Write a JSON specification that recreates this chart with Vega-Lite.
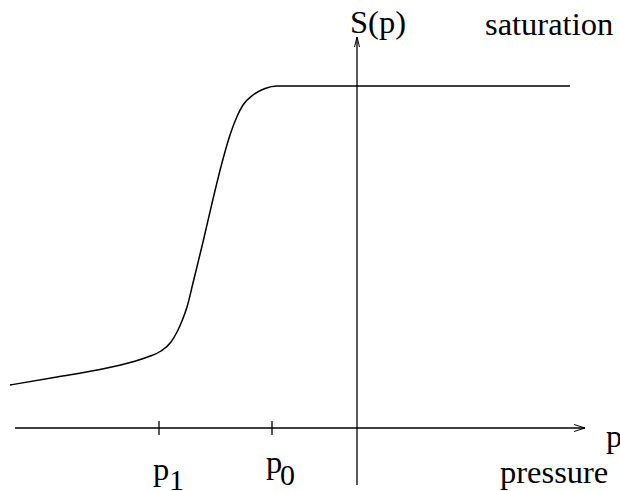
{
  "$schema": "https://vega.github.io/schema/vega-lite/v6.json",
  "width": 620,
  "height": 491,
  "autosize": {"type": "none"},
  "padding": 0,
  "background": "white",
  "config": {"view": {"stroke": null}},
  "datasets": {
    "curve": [
      {"p": -347, "s": 43},
      {"p": -300, "s": 51},
      {"p": -257, "s": 58.5},
      {"p": -225, "s": 66},
      {"p": -208, "s": 71.5},
      {"p": -196, "s": 77},
      {"p": -186, "s": 86},
      {"p": -180, "s": 96},
      {"p": -175, "s": 107},
      {"p": -170, "s": 121},
      {"p": -164, "s": 145},
      {"p": -154, "s": 186},
      {"p": -144, "s": 229},
      {"p": -134, "s": 269},
      {"p": -127, "s": 293},
      {"p": -120, "s": 311.5},
      {"p": -114, "s": 323},
      {"p": -104, "s": 333},
      {"p": -92, "s": 339.5},
      {"p": -80, "s": 342},
      {"p": -67, "s": 342},
      {"p": 213, "s": 342}
    ],
    "rules": [
      {"x": -342, "x2": 228, "y": 0, "y2": 0},
      {"x": 0, "x2": 0, "y": -57, "y2": 391},
      {"x": -198, "x2": -198, "y": 7, "y2": -7},
      {"x": -85, "x2": -85, "y": 7, "y2": -7}
    ],
    "arrows": [
      {"g": "h", "o": 1, "x": 217, "y": 3.5},
      {"g": "h", "o": 2, "x": 228, "y": 0},
      {"g": "h", "o": 3, "x": 217, "y": -3.5},
      {"g": "v", "o": 1, "x": -2.5, "y": 381},
      {"g": "v", "o": 2, "x": 0, "y": 391},
      {"g": "v", "o": 3, "x": 2.5, "y": 381}
    ],
    "labels": [
      {"x": -7, "y": 395, "t": "S(p)"},
      {"x": 128, "y": 393, "t": "saturation"},
      {"x": 249, "y": -19, "t": "p"},
      {"x": 143, "y": -55, "t": "pressure"},
      {"x": -204, "y": -52, "t": "p"},
      {"x": -91, "y": -45, "t": "p"}
    ],
    "subs": [
      {"x": -188, "y": -62, "t": "1"},
      {"x": -77, "y": -57, "t": "0"}
    ]
  },
  "layer": [
    {
      "data": {"name": "curve"},
      "mark": {"type": "line", "interpolate": "monotone", "color": "black", "strokeWidth": 1.5},
      "encoding": {
        "x": {"field": "p", "type": "quantitative", "scale": {"domain": [-357, 263], "nice": false, "zero": false}, "axis": null},
        "y": {"field": "s", "type": "quantitative", "scale": {"domain": [-63, 428], "nice": false, "zero": false}, "axis": null}
      }
    },
    {
      "data": {"name": "rules"},
      "mark": {"type": "rule", "color": "black", "strokeWidth": 1.3},
      "encoding": {
        "x": {"field": "x", "type": "quantitative"},
        "x2": {"field": "x2"},
        "y": {"field": "y", "type": "quantitative"},
        "y2": {"field": "y2"}
      }
    },
    {
      "data": {"name": "arrows"},
      "mark": {"type": "line", "color": "black", "strokeWidth": 1},
      "encoding": {
        "x": {"field": "x", "type": "quantitative"},
        "y": {"field": "y", "type": "quantitative"},
        "detail": {"field": "g"},
        "order": {"field": "o"}
      }
    },
    {
      "data": {"name": "labels"},
      "mark": {"type": "text", "align": "left", "baseline": "alphabetic", "font": "Liberation Serif", "fontSize": 32.5, "color": "black"},
      "encoding": {
        "x": {"field": "x", "type": "quantitative"},
        "y": {"field": "y", "type": "quantitative"},
        "text": {"field": "t"}
      }
    },
    {
      "data": {"name": "subs"},
      "mark": {"type": "text", "align": "left", "baseline": "alphabetic", "font": "Liberation Serif", "fontSize": 30, "color": "black"},
      "encoding": {
        "x": {"field": "x", "type": "quantitative"},
        "y": {"field": "y", "type": "quantitative"},
        "text": {"field": "t"}
      }
    }
  ]
}
